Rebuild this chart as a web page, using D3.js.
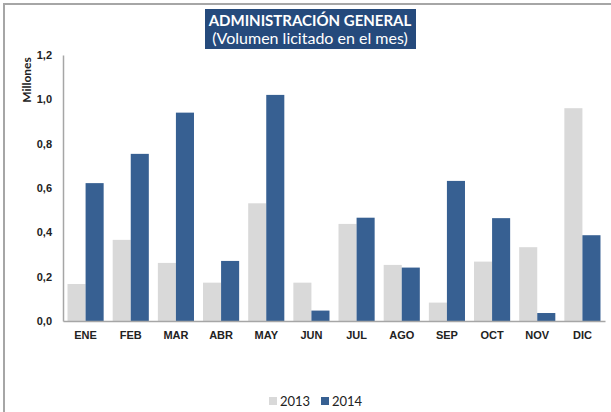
<!DOCTYPE html>
<html lang="es">
<head>
<meta charset="utf-8">
<title>Administración General</title>
<script src="https://d3js.org/d3.v7.min.js"></script>
<style>
  body { margin: 0; background: #fff; }
  svg { display: block; font-family: Lato, "Open Sans", sans-serif; }
  .tick-lbl { font-size: 11px; font-weight: bold; fill: #222; }
  .cat-lbl { font-size: 11px; font-weight: bold; fill: #222; }
</style>
</head>
<body>
<svg width="611" height="412"></svg>
<script>
// months and yearly values (millions)
const months = ["ENE","FEB","MAR","ABR","MAY","JUN","JUL","AGO","SEP","OCT","NOV","DIC"];
const series = ["2013", "2014"];
const values2013 = [0.167, 0.366, 0.262, 0.173, 0.531, 0.173, 0.438, 0.253, 0.083, 0.268, 0.333, 0.960];
const values2014 = [0.622, 0.754, 0.940, 0.271, 1.020, 0.047, 0.466, 0.241, 0.632, 0.464, 0.036, 0.387];
const yTicks = [0, 0.2, 0.4, 0.6, 0.8, 1.0, 1.2];
const colors = { "2013": "#d9d9d9", "2014": "#376092" };

const svg = d3.select("svg");

// outer frame (only top and left edges visible)
svg.append("path")
   .attr("d", "M4,412 L4,4 L611,4")
   .attr("fill", "none")
   .attr("stroke", "#a6a6a6")
   .attr("stroke-width", 2);

// title box
svg.append("rect")
   .attr("x", 205).attr("y", 9)
   .attr("width", 211).attr("height", 40)
   .attr("fill", "#254a7c");
svg.append("text")
   .attr("x", 310).attr("y", 26)
   .attr("text-anchor", "middle")
   .attr("fill", "#fff")
   .style("font-size", "15px").style("font-weight", "bold")
   .text("ADMINISTRACIÓN GENERAL");
svg.append("text")
   .attr("x", 310).attr("y", 44)
   .attr("text-anchor", "middle")
   .attr("fill", "#fff")
   .style("font-size", "16px")
   .text("(Volumen licitado en el mes)");

const x0 = d3.scaleBand().domain(months).range([63, 605]).paddingInner(0.2).paddingOuter(0.1);
const x1 = d3.scaleBand().domain(series).range([0, x0.bandwidth()]);
const y = d3.scaleLinear().domain([0, 1.2]).range([321, 55]);

const data = months.map((m, i) => ({ month: m, vals: [
  { key: "2013", v: values2013[i] },
  { key: "2014", v: values2014[i] }
]}));

const g = svg.selectAll("g.month")
   .data(data)
   .enter()
   .append("g")
   .attr("class", "month")
   .attr("transform", d => "translate(" + x0(d.month) + ",0)");

g.selectAll("rect")
 .data(d => d.vals)
 .enter()
 .append("rect")
 .attr("x", d => x1(d.key))
 .attr("y", d => y(d.v))
 .attr("width", x1.bandwidth())
 .attr("height", d => y(0) - y(d.v))
 .attr("fill", d => colors[d.key]);

// y axis
const yAxis = svg.append("g")
   .attr("transform", "translate(63,0)")
   .call(d3.axisLeft(y).tickValues(yTicks).tickSize(0).tickPadding(11)
     .tickFormat(d => d3.format(".1f")(d).replace(".", ",")));
yAxis.select(".domain").attr("stroke", "#a6a6a6").attr("stroke-width", 1.5);
yAxis.selectAll("text").attr("class", "tick-lbl").attr("fill", null);

// x axis
const xAxis = svg.append("g")
   .attr("transform", "translate(0,321)")
   .call(d3.axisBottom(x0).tickSize(0).tickPadding(10));
xAxis.select(".domain").attr("stroke", "#a6a6a6").attr("stroke-width", 1.5);
xAxis.selectAll("text").attr("class", "cat-lbl").attr("fill", null).attr("font-size", null);

svg.append("text")
   .attr("transform", "translate(31,80) rotate(-90)")
   .attr("text-anchor", "middle")
   .style("font-size", "12px").style("font-weight", "bold").attr("fill", "#222")
   .text("Millones");

// legend
const legend = svg.selectAll("g.leg")
   .data(series)
   .enter()
   .append("g")
   .attr("class", "leg")
   .attr("transform", (d, i) => "translate(" + (269 + i * 52) + ",397)");
legend.append("rect").attr("width", 8).attr("height", 8).attr("fill", d => colors[d]);
legend.append("text").attr("x", 11).attr("y", 9)
   .style("font-size", "13px").attr("fill", "#222").text(d => d);
</script>
</body>
</html>
